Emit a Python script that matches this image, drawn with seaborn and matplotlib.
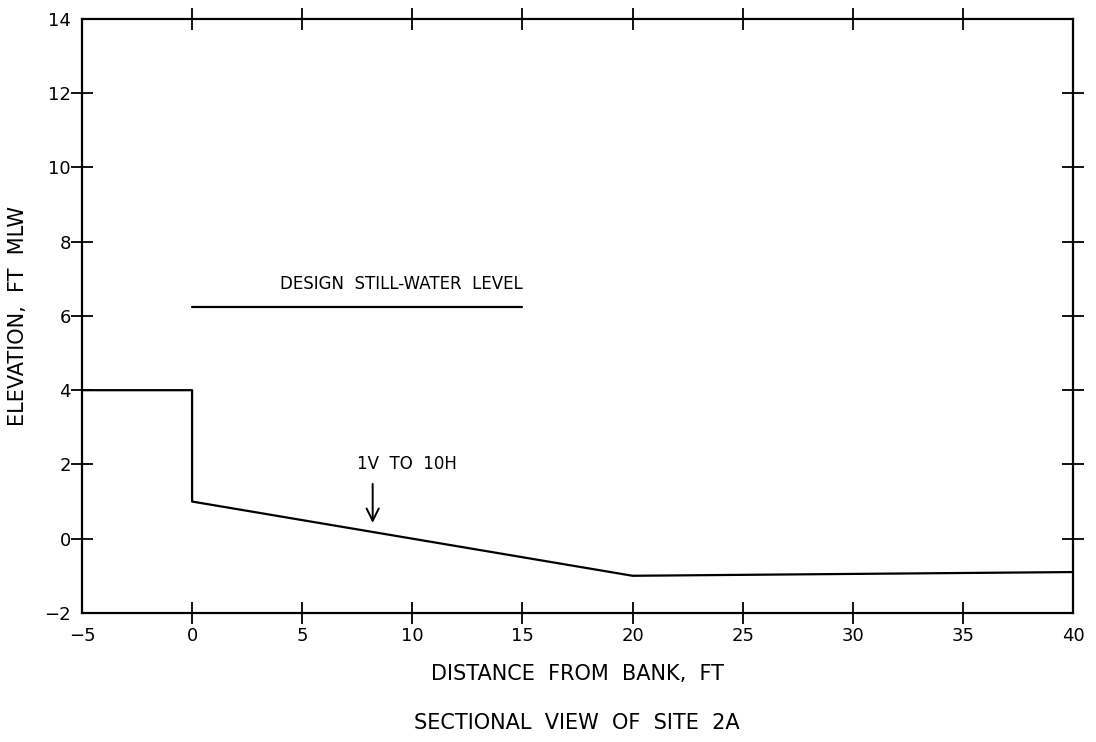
import matplotlib
matplotlib.use("Agg")
import matplotlib.pyplot as plt
import seaborn as sns
import pandas as pd

# Ground profile (distance from bank, elevation)
profile_x = [-5, 0, 0, 20, 40]
profile_y = [4.0, 4.0, 1.0, -1.0, -0.9]

# Design still-water level line
swl_x = [0, 15]
swl_y = [6.25, 6.25]

x_ticks = [-5, 0, 5, 10, 15, 20, 25, 30, 35, 40]
y_ticks = [-2, 0, 2, 4, 6, 8, 10, 12, 14]

sns.set_style("white")
plt.rcParams['font.family'] = ['DejaVu Sans']
plt.rcParams['text.color'] = 'black'
plt.rcParams['axes.labelcolor'] = 'black'

fig = plt.figure(figsize=(10.96, 7.42), dpi=100)
ax = fig.add_axes([0.0748, 0.174, 0.9042, 0.8004])

prof = pd.DataFrame({'x': profile_x, 'y': profile_y})
swl = pd.DataFrame({'x': swl_x, 'y': swl_y})
sns.lineplot(data=prof, x='x', y='y', sort=False, estimator=None, color='black', lw=1.6, ax=ax)
sns.lineplot(data=swl, x='x', y='y', sort=False, estimator=None, color='black', lw=1.6, ax=ax)

ax.text(15, 6.85, 'DESIGN  STILL-WATER  LEVEL', ha='right', va='center', fontsize=12, color='black')
ax.text(7.5, 2.0, '1V  TO  10H', ha='left', va='center', fontsize=12, color='black')
ax.annotate('', xy=(8.2, 0.35), xytext=(8.2, 1.55),
            arrowprops=dict(arrowstyle='->', color='black', lw=1.4, mutation_scale=22))

ax.set_xlim(-5, 40)
ax.set_ylim(-2, 14)
ax.set_xticks(x_ticks)
ax.set_yticks(y_ticks)
ax.set_xticklabels([str(v).replace('-', '\u2212') for v in x_ticks])
ax.set_yticklabels([str(v).replace('-', '\u2212') for v in y_ticks])

for s in ax.spines.values():
    s.set_color('black')
    s.set_linewidth(1.6)

ax.tick_params(axis='both', which='major', direction='inout', length=16, width=1.3,
               colors='black', labelsize=13, top=True, right=True, bottom=True, left=True)
ax.tick_params(axis='x', pad=2)
ax.tick_params(axis='y', pad=0)

# hide tick marks sitting on the frame corners
for t in [ax.xaxis.get_major_ticks()[0], ax.xaxis.get_major_ticks()[-1],
          ax.yaxis.get_major_ticks()[0], ax.yaxis.get_major_ticks()[-1]]:
    t.tick1line.set_visible(False)
    t.tick2line.set_visible(False)

ax.set_xlabel('DISTANCE  FROM  BANK,  FT', fontsize=15, labelpad=14)
ax.set_ylabel('ELEVATION,  FT  MLW', fontsize=15, labelpad=12)
fig.text(0.526, 1 - 723 / 742, 'SECTIONAL  VIEW  OF  SITE  2A', ha='center', va='center', fontsize=15)

fig.savefig('out.png', dpi=100)
